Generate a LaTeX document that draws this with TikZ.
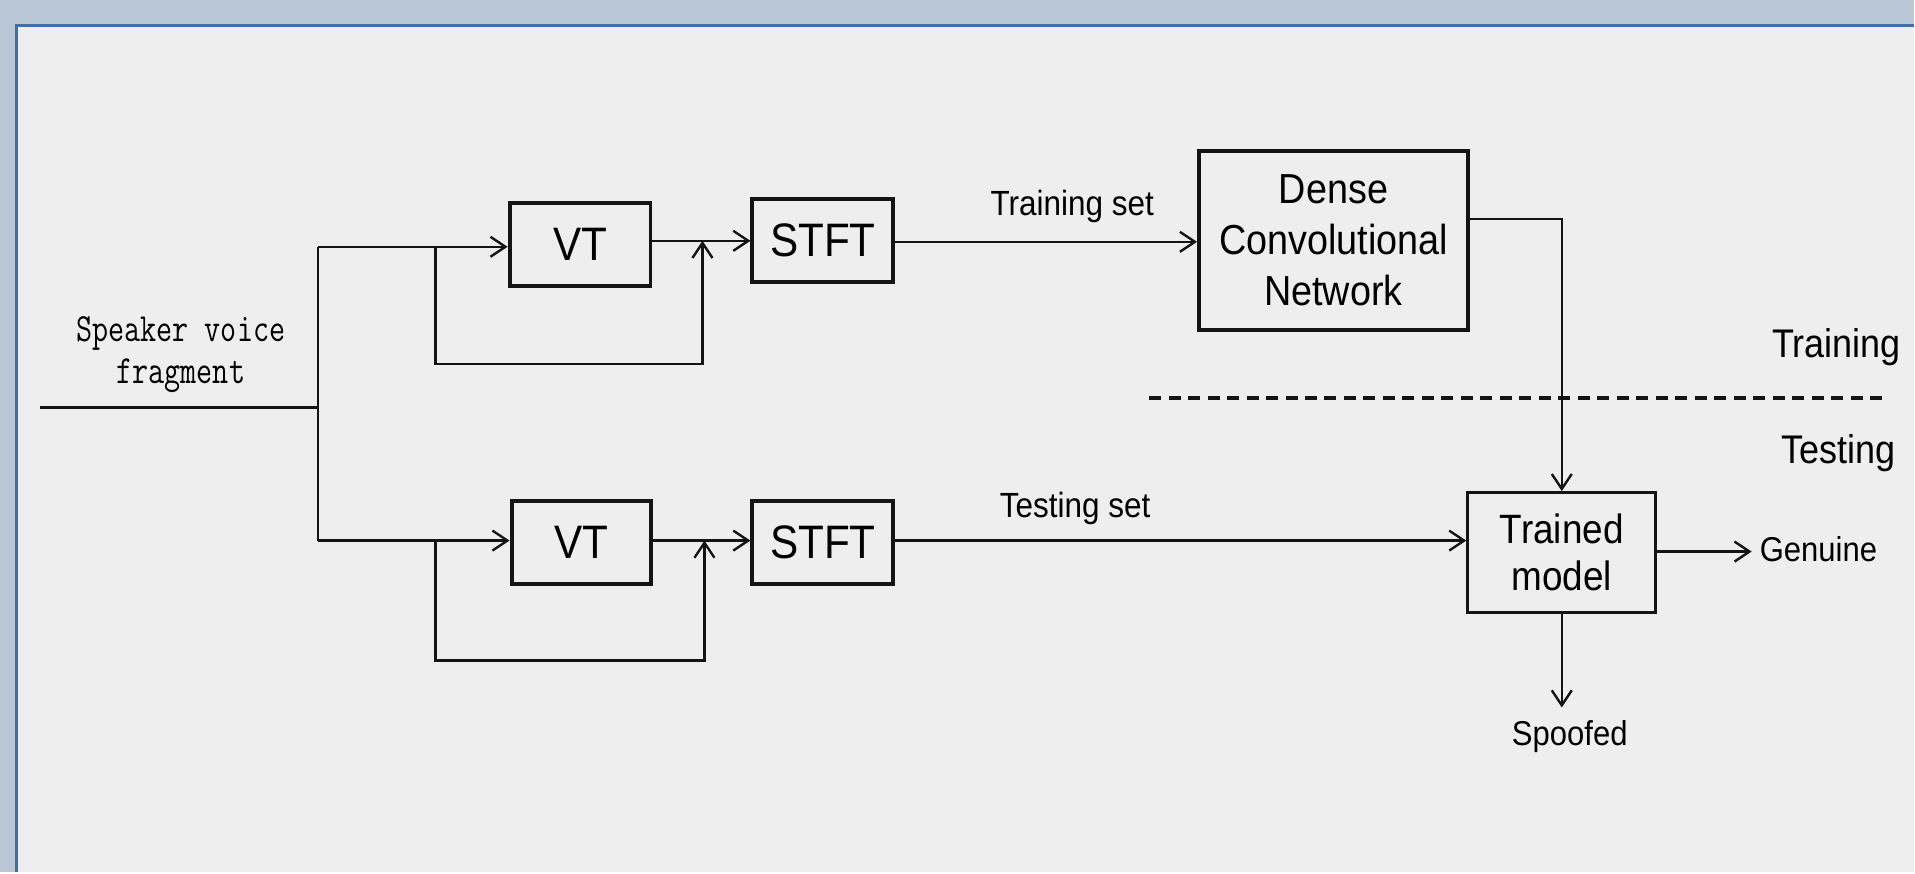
\documentclass[tikz,border=0pt]{standalone}
\usepackage{fontspec}
\setmainfont{Liberation Sans}[FakeStretch=0.9]
\newfontfamily\svf{Latin Modern Mono}[FakeStretch=0.78]
\usetikzlibrary{arrows.meta}
\definecolor{outerbg}{HTML}{B9C7D7}
\definecolor{innerbg}{HTML}{EEEEEE}
\definecolor{frameblue}{HTML}{3D6FA8}
\definecolor{ink}{HTML}{141414}
\begin{document}
\begin{tikzpicture}[x=1pt,y=-1pt,
  blk/.style={draw=ink, line width=4pt, inner sep=0pt, align=center},
  conn/.style={draw=ink, line width=2.4pt},
  arr/.style={conn, -{Straight Barb[length=15pt,width=20pt,line width=2.4pt]}},
  bigtxt/.style={font=\fontsize{47}{50}\selectfont},
  midtxt/.style={font=\fontsize{42}{51}\selectfont},
  lbltxt/.style={font=\fontsize{35}{40}\selectfont, inner sep=0pt},
  sidetxt/.style={font=\fontsize{40}{44}\selectfont, inner sep=0pt},
  outtxt/.style={font=\fontsize{34.5}{38}\selectfont, inner sep=0pt}]
\fill[outerbg] (0,0) rectangle (1915,873);
\fill[innerbg] (16,25) rectangle (1915,873);
\draw[frameblue, line width=3pt] (16.5,873) -- (16.5,25.5) -- (1915,25.5);
\useasboundingbox (0,0) rectangle (1915,873);

% blocks
\node[blk, bigtxt, minimum width=141pt, minimum height=83pt] (vt1) at (580.5,244.5) {VT};
\node[blk, bigtxt, minimum width=141pt, minimum height=83pt] (stft1) at (823.5,240.5) {STFT};
\node[blk, midtxt, minimum width=269pt, minimum height=179pt] (dcn) at (1334.5,240.5) {Dense\\Convolutional\\Network};
\node[blk, bigtxt, minimum width=140pt, minimum height=83pt] (vt2) at (582,542.5) {VT};
\node[blk, bigtxt, minimum width=141pt, minimum height=83pt] (stft2) at (823.5,542.5) {STFT};
\node[blk, line width=3pt, font=\fontsize{41}{47}\selectfont, minimum width=188pt, minimum height=120pt] (tm) at (1563,553) {Trained\\model};

% labels
\node[font=\svf\fontsize{40}{42}\selectfont, align=center, inner sep=0pt] (svf) at (181,355) {Speaker voice\\fragment};
\node[lbltxt] (trs) at (1073,207) {Training set};
\node[lbltxt] (tes) at (1076,509) {Testing set};
\node[sidetxt] (trn) at (1838,347) {Training};
\node[sidetxt] (tst) at (1840,454) {Testing};
\node[outtxt, anchor=west] (gen) at (1761,550) {Genuine};
\node[outtxt] (spf) at (1571,737) {Spoofed};

% coordinates
\coordinate (in0) at (40,408);
\coordinate (j0) at (318,408);
\coordinate (jt) at (318,247);
\coordinate (jb) at (318,541);
\coordinate (bt0) at (436,247);
\coordinate (bt1) at (436,364);
\coordinate (bt2) at (703,364);
\coordinate (mt) at (703,241);
\coordinate (bb0) at (436,541);
\coordinate (bb1) at (436,661);
\coordinate (bb2) at (705,661);
\coordinate (mb) at (705,541);
\coordinate (ytr) at (0,242);
\coordinate (yts) at (0,541);
\coordinate (dout) at (0,219);
\coordinate (dcorner) at (1563,219);
\coordinate (gend) at (1753,552);
\coordinate (spend) at (1563,708);
\coordinate (da) at (1150,398);
\coordinate (db) at (1887,398);

% connectors
\draw[conn, line width=3pt] (in0) -- (j0);
\draw[conn] (jt) -- (jb);
\draw[arr] (jt) -- (vt1.west |- jt);
\draw[arr] (bt0) -- (bt1) -- (bt2) -- (mt);
\draw[arr] (vt1.east |- mt) -- (stft1.west |- mt);
\draw[arr] (jb) -- (vt2.west |- jb);
\draw[arr] (bb0) -- (bb1) -- (bb2) -- (mb);
\draw[arr] (vt2.east |- mb) -- (stft2.west |- mb);
\draw[arr] (stft1.east |- ytr) -- (dcn.west |- ytr);
\draw[arr] (stft2.east |- yts) -- (tm.west |- yts);
\draw[arr] (dcn.east |- dout) -- (dcorner) -- (tm.north);
\draw[arr] (tm.east |- gend) -- (gend);
\draw[arr] (tm.south) -- (spend);
\draw[ink, line width=4pt, dash pattern=on 12pt off 7.5pt] (da) -- (db);
\end{tikzpicture}
\end{document}
